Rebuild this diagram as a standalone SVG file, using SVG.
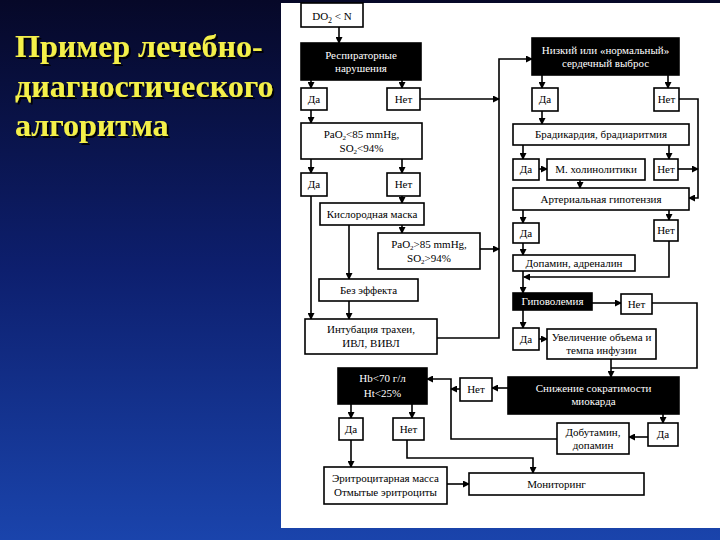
<svg xmlns="http://www.w3.org/2000/svg" width="720" height="540" viewBox="0 0 720 540">
<defs>
<linearGradient id="bg" x1="0" y1="0" x2="0" y2="1">
<stop offset="0" stop-color="#060828"/>
<stop offset="0.5" stop-color="#0d1f6e"/>
<stop offset="1" stop-color="#1a44ac"/>
</linearGradient>
<filter id="sh" x="-5%" y="-20%" width="110%" height="140%">
<feDropShadow dx="2" dy="2" stdDeviation="0.6" flood-color="#000" flood-opacity="0.9"/>
</filter>
<marker id="ar" markerWidth="7" markerHeight="7" refX="6" refY="3.5" orient="auto" markerUnits="userSpaceOnUse">
<path d="M0,0 L7,3.5 L0,7 Z" fill="#000"/>
</marker>
<style>
.b{fill:#fff;stroke:#000;stroke-width:1.6}
.k{fill:#000;stroke:#000;stroke-width:1.6}
.t{font-family:"Liberation Serif","Times New Roman",serif;font-size:11px;fill:#000;text-anchor:middle}
.w{fill:#fff}
.c{fill:none;stroke:#000;stroke-width:1.6}
.a{marker-end:url(#ar)}
.ti{font-family:"Liberation Serif","Times New Roman",serif;font-weight:bold;font-size:32px;fill:#f4f04a}
</style>
</defs>
<rect x="0" y="0" width="720" height="540" fill="url(#bg)"/>
<rect x="281" y="3" width="439" height="525" fill="#fff"/>
<g id="title" filter="url(#sh)">
<text class="ti" x="15" y="57">Пример лечебно-</text>
<text class="ti" x="15" y="97">диагностического</text>
<text class="ti" x="15" y="136">алгоритма</text>
</g>
<g id="connectors">
<path class="c a" d="M339,27 V43"/>
<path class="c a" d="M311,80 V88"/>
<path class="c a" d="M402,80 V88"/>
<path class="c a" d="M420,99 H499"/>
<path class="c a" d="M437,338 H499 V59 H532"/>
<path class="c a" d="M480,249 H499"/>
<path class="c a" d="M311,110 V123"/>
<path class="c a" d="M311,159 V173"/>
<path class="c a" d="M402,159 V173"/>
<path class="c a" d="M402,196 V203"/>
<path class="c a" d="M402,225 V233"/>
<path class="c a" d="M349,225 V279"/>
<path class="c a" d="M311,196 V319"/>
<path class="c a" d="M349,301 V319"/>
<path class="c a" d="M542,75 V88"/>
<path class="c a" d="M668,75 V88"/>
<path class="c a" d="M542,111 V124"/>
<path class="c a" d="M679,99 H698 V198 H689"/>
<path class="c a" d="M523,145 V159"/>
<path class="c a" d="M669,145 V159"/>
<path class="c a" d="M539,169 H547"/>
<path class="c a" d="M678,169 H698"/>
<path class="c a" d="M580,180 V188"/>
<path class="c a" d="M523,210 V223"/>
<path class="c a" d="M669,210 V220"/>
<path class="c a" d="M523,243 V255"/>
<path class="c a" d="M523,271 V293"/>
<path class="c a" d="M669,241 V277 H524"/>
<path class="c a" d="M592,303 H621"/>
<path class="c a" d="M523,310 V328"/>
<path class="c a" d="M539,339 H547"/>
<path class="c" d="M652,303 H697 V368 H611"/>
<path class="c a" d="M611,359 V377"/>
<path class="c a" d="M508,388 H492"/>
<path class="c a" d="M460,389 H451"/>
<path class="c a" d="M557,439 H451 V379 H427"/>
<path class="c a" d="M663,414 V423"/>
<path class="c a" d="M648,437 H629"/>
<path class="c a" d="M351,404 V418"/>
<path class="c a" d="M412,404 V418"/>
<path class="c a" d="M351,440 V467"/>
<path class="c a" d="M407,440 V458 H533 V473"/>
<path class="c a" d="M447,484 H469"/>
</g>
<g id="n1"><rect class="b" x="301" y="3" width="62" height="24"/><text class="t" x="332" y="20" font-size="12">DO<tspan font-size="8" dy="3">2</tspan><tspan dy="-3"> &lt; N</tspan></text></g>
<g id="n2"><rect class="k" x="301" y="43" width="120" height="37"/><text class="t w" x="361" y="59">Респираторные</text><text class="t w" x="361" y="72">нарушения</text></g>
<g id="n3"><rect class="b" x="301" y="88" width="26" height="22"/><text class="t" x="314" y="103">Да</text></g>
<g id="n4"><rect class="b" x="387" y="88" width="33" height="22"/><text class="t" x="403.5" y="103">Нет</text></g>
<g id="n5"><rect class="b" x="301" y="123" width="121" height="36"/><text class="t" x="361.5" y="138">PaO<tspan font-size="7" dy="2">2</tspan><tspan dy="-2">&lt;85 mmHg,</tspan></text><text class="t" x="361.5" y="152">SO<tspan font-size="7" dy="2">2</tspan><tspan dy="-2">&lt;94%</tspan></text></g>
<g id="n6"><rect class="b" x="301" y="173" width="26" height="23"/><text class="t" x="314" y="188">Да</text></g>
<g id="n7"><rect class="b" x="387" y="173" width="33" height="23"/><text class="t" x="403.5" y="188">Нет</text></g>
<g id="n8"><rect class="b" x="320" y="203" width="104" height="22"/><text class="t" x="372" y="218">Кислородная маска</text></g>
<g id="n9"><rect class="b" x="378" y="233" width="102" height="36"/><text class="t" x="429" y="248">PaO<tspan font-size="7" dy="2">2</tspan><tspan dy="-2">&gt;85 mmHg,</tspan></text><text class="t" x="429" y="262">SO<tspan font-size="7" dy="2">2</tspan><tspan dy="-2">&gt;94%</tspan></text></g>
<g id="n10"><rect class="b" x="319" y="279" width="99" height="22"/><text class="t" x="368.5" y="294">Без эффекта</text></g>
<g id="n11"><rect class="b" x="305" y="319" width="132" height="35"/><text class="t" x="371" y="333">Интубация трахеи,</text><text class="t" x="371" y="347">ИВЛ, ВИВЛ</text></g>
<g id="n12"><rect class="k" x="532" y="38" width="147" height="37"/><text class="t w" x="605.5" y="54">Низкий или «нормальный»</text><text class="t w" x="605.5" y="67">сердечный выброс</text></g>
<g id="n13"><rect class="b" x="532" y="88" width="26" height="23"/><text class="t" x="545" y="103">Да</text></g>
<g id="n14"><rect class="b" x="654" y="88" width="25" height="23"/><text class="t" x="666.5" y="103">Нет</text></g>
<g id="n15"><rect class="b" x="513" y="124" width="176" height="21"/><text class="t" x="601" y="138">Брадикардия, брадиаритмия</text></g>
<g id="n16"><rect class="b" x="513" y="159" width="26" height="21"/><text class="t" x="526" y="173">Да</text></g>
<g id="n17"><rect class="b" x="547" y="159" width="98" height="21"/><text class="t" x="596" y="173">М. холинолитики</text></g>
<g id="n18"><rect class="b" x="654" y="159" width="24" height="21"/><text class="t" x="666" y="173">Нет</text></g>
<g id="n19"><rect class="b" x="513" y="188" width="176" height="22"/><text class="t" x="601" y="203">Артериальная гипотензия</text></g>
<g id="n20"><rect class="b" x="513" y="223" width="26" height="20"/><text class="t" x="526" y="237">Да</text></g>
<g id="n21"><rect class="b" x="654" y="220" width="24" height="21"/><text class="t" x="666" y="234">Нет</text></g>
<g id="n22"><rect class="b" x="513" y="255" width="122" height="16"/><text class="t" x="574" y="267">Допамин, адреналин</text></g>
<g id="n23"><rect class="k" x="513" y="293" width="79" height="17"/><text class="t w" x="552.5" y="305">Гиповолемия</text></g>
<g id="n24"><rect class="b" x="621" y="294" width="31" height="20"/><text class="t" x="636.5" y="308">Нет</text></g>
<g id="n25"><rect class="b" x="513" y="328" width="26" height="22"/><text class="t" x="526" y="343">Да</text></g>
<g id="n26"><rect class="b" x="547" y="329" width="109" height="30"/><text class="t" x="601.5" y="341">Увеличение объема и</text><text class="t" x="601.5" y="354">темпа инфузии</text></g>
<g id="n27"><rect class="k" x="508" y="377" width="171" height="37"/><text class="t w" x="593.5" y="392">Снижение сократимости</text><text class="t w" x="593.5" y="405">миокарда</text></g>
<g id="n28"><rect class="b" x="460" y="378" width="32" height="23"/><text class="t" x="476" y="393">Нет</text></g>
<g id="n29"><rect class="k" x="338" y="368" width="89" height="36"/><text class="t w" x="382.5" y="382">Hb&lt;70 г/л</text><text class="t w" x="382.5" y="397">Ht&lt;25%</text></g>
<g id="n30"><rect class="b" x="339" y="418" width="24" height="22"/><text class="t" x="351" y="433">Да</text></g>
<g id="n31"><rect class="b" x="393" y="418" width="31" height="22"/><text class="t" x="408.5" y="433">Нет</text></g>
<g id="n32"><rect class="b" x="557" y="423" width="72" height="31"/><text class="t" x="593" y="436">Добутамин,</text><text class="t" x="593" y="449">допамин</text></g>
<g id="n33"><rect class="b" x="648" y="423" width="30" height="23"/><text class="t" x="663" y="438">Да</text></g>
<g id="n34"><rect class="b" x="324" y="467" width="123" height="37"/><text class="t" x="385.5" y="482">Эритроцитарная масса</text><text class="t" x="385.5" y="496">Отмытые эритроциты</text></g>
<g id="n35"><rect class="b" x="469" y="473" width="175" height="22"/><text class="t" x="556.5" y="488">Мониторинг</text></g>
</svg>
